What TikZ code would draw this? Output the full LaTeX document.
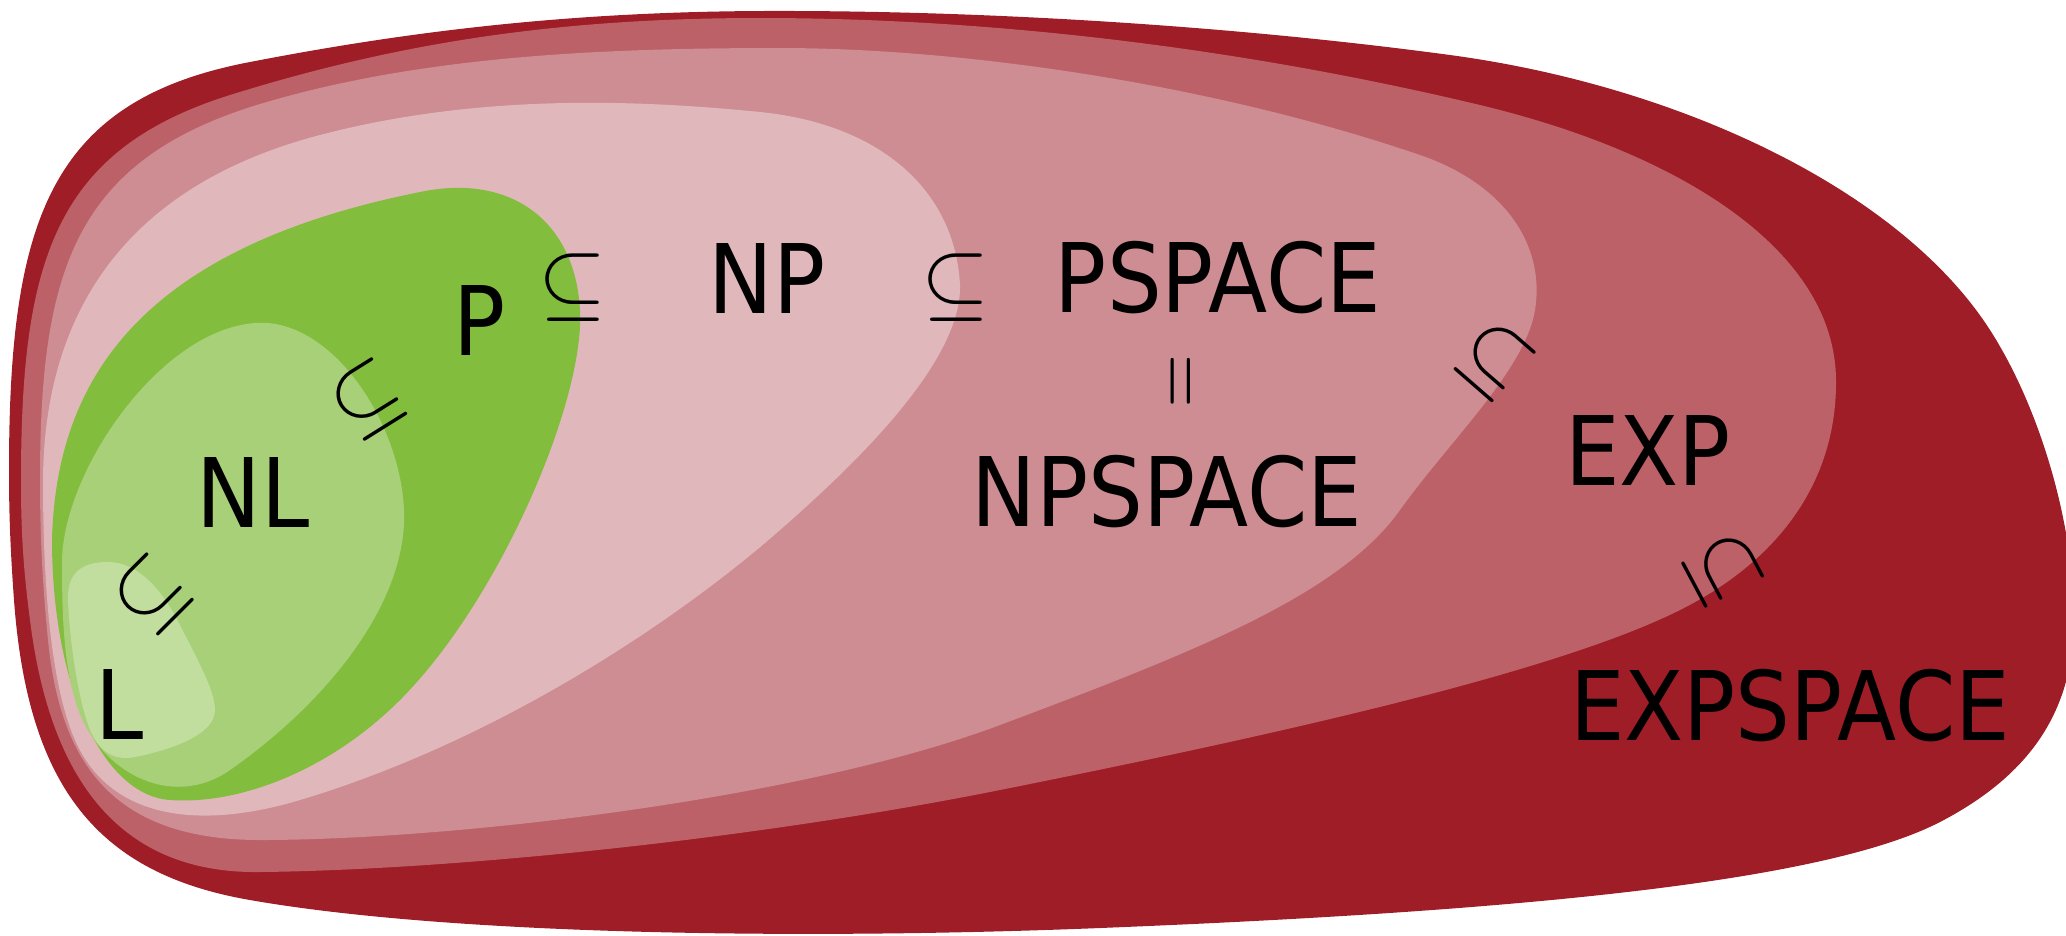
\documentclass[tikz,border=0pt]{standalone}
\usepackage{fontspec}
\setmainfont{DejaVu Sans}[FakeStretch=0.9]
\usepackage{tikz}
\definecolor{expspace}{RGB}{158,29,39}
\definecolor{exptime}{RGB}{188,97,104}
\definecolor{pspace}{RGB}{206,140,147}
\definecolor{npc}{RGB}{224,184,188}
\definecolor{ptime}{RGB}{131,189,62}
\definecolor{nlog}{RGB}{168,208,121}
\definecolor{logsp}{RGB}{193,222,158}

\begin{document}
\begin{tikzpicture}[x=0.01cm, y=-0.01cm,
    cls/.style={font=\fontsize{27.3}{30}\selectfont, inner sep=0pt},
    rel/.style={font=\fontsize{31}{34}\selectfont, inner sep=0pt}]
    \useasboundingbox (0,0) rectangle (2066,935);
    \clip (0,0) rectangle (2066,935);

    % EXPSPACE
    \fill[expspace] (9,470) .. controls (9,220) and (50,100) .. (250,62)
        .. controls (400,33) and (560,12) .. (760,11)
        .. controls (1000,10) and (1250,28) .. (1450,55)
        .. controls (1680,86) and (1900,190) .. (1990,330)
        .. controls (2040,408) and (2072,520) .. (2074,610)
        .. controls (2076,700) and (2040,770) .. (1940,822)
        .. controls (1820,884) and (1500,912) .. (1100,928)
        .. controls (800,940) and (450,935) .. (250,900)
        .. controls (100,874) and (28,790) .. (14,600)
        .. controls (10,545) and (9,510) .. cycle;
    % EXP
    \fill[exptime] (21,480) .. controls (21,260) and (55,150) .. (230,95)
        .. controls (400,42) and (560,18) .. (760,18)
        .. controls (1000,18) and (1250,50) .. (1480,105)
        .. controls (1680,153) and (1835,250) .. (1836,380)
        .. controls (1837,480) and (1780,560) .. (1680,610)
        .. controls (1560,670) and (1300,730) .. (1000,790)
        .. controls (750,840) and (450,870) .. (260,872)
        .. controls (120,874) and (50,780) .. (30,620)
        .. controls (22,560) and (21,520) .. cycle;
    % PSPACE = NPSPACE
    \fill[pspace] (40,480) .. controls (40,270) and (75,160) .. (260,104)
        .. controls (420,56) and (600,48) .. (780,48)
        .. controls (950,48) and (1200,80) .. (1420,155)
        .. controls (1510,186) and (1545,250) .. (1535,310)
        .. controls (1525,370) and (1450,440) .. (1400,510)
        .. controls (1340,594) and (1200,650) .. (1000,725)
        .. controls (800,800) and (450,840) .. (260,840)
        .. controls (110,840) and (60,760) .. (48,640)
        .. controls (42,580) and (40,530) .. cycle;
    % NP
    \fill[npc] (43,480) .. controls (44,330) and (110,190) .. (320,135)
        .. controls (480,93) and (640,100) .. (760,112)
        .. controls (880,124) and (955,190) .. (960,285)
        .. controls (962,360) and (860,460) .. (780,530)
        .. controls (680,618) and (500,740) .. (300,800)
        .. controls (200,830) and (110,820) .. (75,740)
        .. controls (50,683) and (43,580) .. cycle;
    % P
    \fill[ptime] (52,540) .. controls (56,380) and (140,248) .. (420,192)
        .. controls (510,173) and (575,220) .. (580,310)
        .. controls (585,400) and (500,600) .. (400,700)
        .. controls (330,770) and (240,805) .. (170,800)
        .. controls (100,795) and (52,680) .. cycle;
    % NL
    \fill[nlog] (62,560) .. controls (64,470) and (160,330) .. (255,323)
        .. controls (330,317) and (400,420) .. (404,510)
        .. controls (408,600) and (330,700) .. (230,770)
        .. controls (170,812) and (95,770) .. (75,700)
        .. controls (63,658) and (62,610) .. cycle;
    % L
    \fill[logsp] (68,600) .. controls (67,570) and (85,562) .. (108,562)
        .. controls (135,562) and (160,585) .. (180,625)
        .. controls (195,655) and (215,690) .. (215,710)
        .. controls (215,735) and (170,750) .. (135,757)
        .. controls (105,763) and (92,740) .. (85,715)
        .. controls (75,680) and (69,630) .. cycle;

    % class names
    \node[cls] (l) at (120,704) {L};
    \node[cls] (nl) at (253,492) {NL};
    \node[cls] (p) at (480,320) {P};
    \node[cls] (np) at (767,278) {NP};
    \node[cls] (pspace) at (1218,278) {PSPACE};
    \node[cls] (npspace) at (1167,492) {NPSPACE};
    \node[cls] (exp) at (1648,450) {EXP};
    \node[cls] (expspace) at (1790,706) {EXPSPACE};

    % inclusions
    \node[rel, rotate=45] (l-nl) at (152,595) {$\subseteq$};
    \node[rel, rotate=32] (nl-p) at (368,400) {$\subseteq$};
    \node[rel] (p-np) at (573,288) {$\subseteq$};
    \node[rel] (np-pspace) at (956,288) {$\subseteq$};
    \node[rel, font=\fontsize{20}{22}\selectfont, rotate=90, yscale=1.25] (pspace-npspace) at (1187,381) {$=$};
    \node[rel, rotate=-41] (pspace-exp) at (1495,360) {$\subseteq$};
    \node[rel, rotate=-62] (exp-expspace) at (1723,569) {$\subseteq$};
\end{tikzpicture}
\end{document}
